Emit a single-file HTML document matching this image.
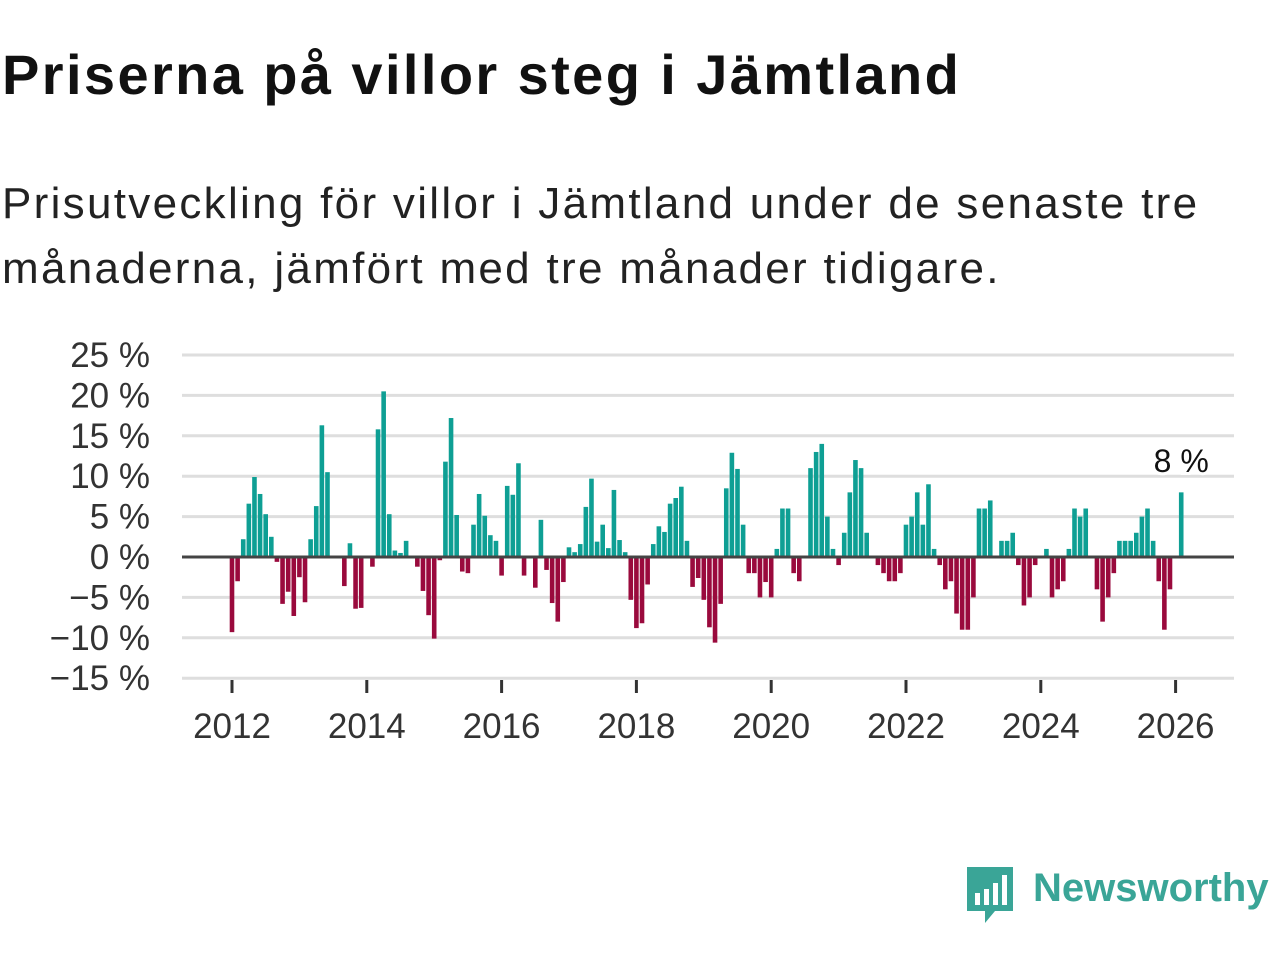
<!DOCTYPE html>
<html><head><meta charset="utf-8"><style>
body{margin:0;background:#fff;width:1280px;height:960px;overflow:hidden;font-family:"Liberation Sans",sans-serif;}
#title{position:absolute;left:2px;top:42px;font-size:56px;font-weight:bold;color:#111;margin:0;letter-spacing:2.4px}
#sub{position:absolute;left:2px;top:171px;font-size:44px;line-height:65px;color:#222;margin:0;width:1270px;letter-spacing:2.3px}
</style></head><body>
<h1 id="title">Priserna på villor steg i Jämtland</h1>
<p id="sub">Prisutveckling för villor i Jämtland under de senaste tre<br>månaderna, jämfört med tre månader tidigare.</p>
<svg id="chart" width="1280" height="960" style="position:absolute;left:0;top:0"></svg>
<script>
const values=[-9.3,-3.0,2.2,6.6,9.9,7.8,5.3,2.5,-0.6,-5.8,-4.3,-7.3,-2.5,-5.6,2.2,6.3,16.3,10.5,0,0,-3.6,1.7,-6.4,-6.3,0,-1.2,15.8,20.5,5.3,0.8,0.5,2.0,0,-1.2,-4.2,-7.2,-10.1,-0.4,11.8,17.2,5.2,-1.8,-2.0,4.0,7.8,5.1,2.7,2.0,-2.3,8.8,7.7,11.6,-2.3,0,-3.8,4.6,-1.6,-5.7,-8.0,-3.1,1.2,0.6,1.6,6.2,9.7,1.9,4.0,1.1,8.3,2.1,0.6,-5.3,-8.8,-8.2,-3.4,1.6,3.8,3.1,6.6,7.3,8.7,2.0,-3.7,-2.6,-5.3,-8.7,-10.6,-5.8,8.5,12.9,10.9,4.0,-2,-2,-5,-3.1,-5,1,6,6,-2,-3,0,11,13,14,5,1,-1,3,8,12,11,3,0,-1,-2,-3,-3,-2,4,5,8,4,9,1,-1,-4,-3,-7,-9,-9,-5,6,6,7,0,2,2,3,-1,-6,-5,-1,0,1,-5,-4,-3,1,6,5,6,0,-4,-8,-5,-2,2,2,2,3,5,6,2,-3,-9,-4,0,8];
const startYear=2012;
const yTicks=[25,20,15,10,5,0,-5,-10,-15];
const xTicks=[2012,2014,2016,2018,2020,2022,2024,2026];
const svg=document.getElementById('chart');const NS='http://www.w3.org/2000/svg';
const X0=232,PX_YEAR=67.4,Y0=557,PX_PCT=8.08;
const xs=t=>X0+(t-startYear)*PX_YEAR;
const ys=v=>Y0-v*PX_PCT;
function mk(tag,at){const e=document.createElementNS(NS,tag);for(const k in at)e.setAttribute(k,at[k]);svg.appendChild(e);return e;}
yTicks.forEach(v=>{
 if(v!==0){const g=mk('line',{x1:182,x2:1234,y1:ys(v),y2:ys(v),stroke:'#dedede','stroke-width':3});
 
 }
 const t=mk('text',{x:150,y:ys(v)+12,'text-anchor':'end','font-size':35,fill:'#333','font-family':'Liberation Sans,sans-serif'});
 t.textContent=(v<0?'\u2212'+(-v):v)+' %';
 
 
});
values.forEach((v,i)=>{
 const x=xs(startYear+i/12);
 const r=mk('rect',{x:x-2.3,width:4.6,y:Math.min(ys(v),Y0),height:Math.abs(ys(v)-Y0),fill:v>=0?'#0e9f94':'#9a0a3d'});
 
 
});
const z=mk('line',{x1:182,x2:1234,y1:Y0,y2:Y0,stroke:'#444','stroke-width':3});


xTicks.forEach(y=>{
 const tk=mk('line',{x1:xs(y),x2:xs(y),y1:680,y2:693,stroke:'#333','stroke-width':3});
 
 
 const t=mk('text',{x:xs(y),y:738,'text-anchor':'middle','font-size':35,fill:'#333','font-family':'Liberation Sans,sans-serif'});
 t.textContent=y;
 
 
});
const li=values.length-1;
const lbl=mk('text',{x:xs(startYear+li/12),y:472,'text-anchor':'middle','font-size':32,fill:'#111',stroke:'#fff','stroke-width':6,'paint-order':'stroke','font-family':'Liberation Sans,sans-serif'});
lbl.textContent=Math.round(values[li])+' %';


</script>
<div style="position:absolute;left:965px;top:865px;">
<svg width="52" height="62"><path d="M2 2H48V46H30L20 58V46H2Z" fill="#3aa597"/><rect x="10" y="28" width="5" height="12" fill="#fff"/><rect x="19" y="24" width="5" height="16" fill="#fff"/><rect x="28" y="18" width="5" height="22" fill="#fff"/><rect x="37" y="10" width="5" height="30" fill="#fff"/></svg>
<span style="position:absolute;left:68px;top:1px;font-size:40px;color:#3aa597;font-weight:bold;white-space:nowrap">Newsworthy</span>
</div>
</body></html>
